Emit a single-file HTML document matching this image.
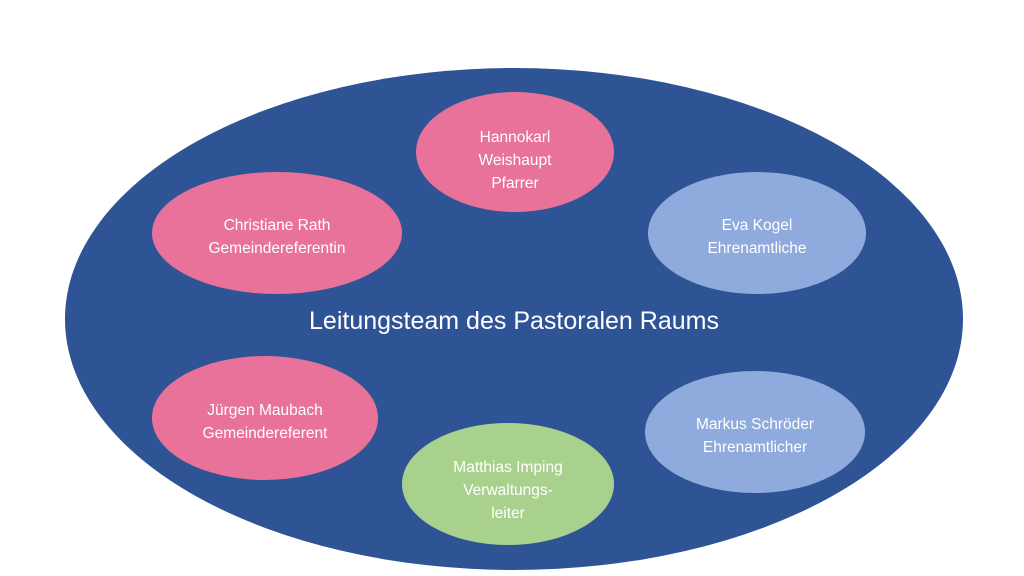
<!DOCTYPE html>
<html><head><meta charset="utf-8"><style>
html,body{margin:0;padding:0;background:#fff;width:1024px;height:576px;overflow:hidden}
text{font-family:"Liberation Sans",sans-serif;fill:#fff}
</style></head><body>
<svg width="1024" height="576" viewBox="0 0 1024 576">
<ellipse cx="514" cy="319" rx="449" ry="251" fill="#2F5496"/>
<ellipse cx="515" cy="152" rx="99" ry="60" fill="#E8729A"/>
<ellipse cx="277" cy="233" rx="125" ry="61" fill="#E8729A"/>
<ellipse cx="757" cy="233" rx="109" ry="61" fill="#8FAADC"/>
<ellipse cx="265" cy="418" rx="113" ry="62" fill="#E8729A"/>
<ellipse cx="755" cy="432" rx="110" ry="61" fill="#8FAADC"/>
<ellipse cx="508" cy="484" rx="106" ry="61" fill="#A9D18E"/>
<g font-size="15.5" text-anchor="middle">
<text x="515" y="142">Hannokarl</text>
<text x="515" y="165">Weishaupt</text>
<text x="515" y="188">Pfarrer</text>
<text x="277" y="230">Christiane Rath</text>
<text x="277" y="253">Gemeindereferentin</text>
<text x="757" y="230">Eva Kogel</text>
<text x="757" y="253">Ehrenamtliche</text>
<text x="265" y="415">Jürgen Maubach</text>
<text x="265" y="438">Gemeindereferent</text>
<text x="755" y="429">Markus Schröder</text>
<text x="755" y="452">Ehrenamtlicher</text>
<text x="508" y="472">Matthias Imping</text>
<text x="508" y="495">Verwaltungs-</text>
<text x="508" y="518">leiter</text>
</g>
<text x="514" y="329" font-size="25" text-anchor="middle">Leitungsteam des Pastoralen Raums</text>
</svg>
</body></html>
